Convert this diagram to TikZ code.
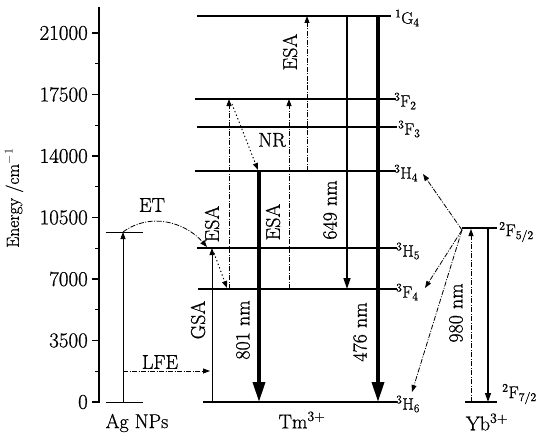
\documentclass[tikz,border=0pt]{standalone}
\usepackage{fontspec}
\setmainfont{Latin Modern Roman}[UprightFeatures={FakeBold=0.8}]
\usetikzlibrary{arrows.meta}
\begin{document}
\begin{tikzpicture}[x=1pt,y=-1pt,
  lbl/.style={font=\fontsize{20}{23}\selectfont, inner sep=0pt},
  tick/.style={font=\fontsize{21}{24}\selectfont, inner sep=0pt, anchor=east},
  lvlbl/.style={font=\fontsize{16.5}{19}\selectfont, anchor=west, inner sep=0pt},
  yblbl/.style={font=\fontsize{17}{20}\selectfont, anchor=west, inner sep=0pt},
  lvl/.style={line width=1.6pt},
  thinlvl/.style={line width=1pt},
  dd/.style={line width=0.8pt, dash pattern=on 5pt off 1.5pt on 1pt off 1.5pt},
  dotl/.style={line width=1pt, dash pattern=on 1.3pt off 2.5pt},
  sarr/.style={-{Triangle[length=7pt,width=5pt]}},
  marr/.style={line width=1.6pt,-{Triangle[length=11pt,width=7pt]}},
  barr/.style={line width=3.6pt,-{Triangle[length=20pt,width=12pt]}},
]
\useasboundingbox (0,0) rectangle (538,436);
% axis
\draw[line width=1.6pt] (99,7) -- (99,402.8);
\foreach \v/\y in {0/402,3500/340.5,7000/279,10500/217.5,14000/156,17500/94.5,21000/33} {
  \draw[line width=1.2pt] (92,\y) -- (99,\y);
  \node[tick] (t\v) at (88,\y) {\v};
}
\foreach \y in {371.25,309.75,248.25,186.75,125.25,63.75} {
  \draw[line width=1.2pt] (95,\y) -- (99,\y);
}
\node[font=\fontsize{17.5}{20}\selectfont,inner sep=0pt,rotate=90] (ylab) at (14,198) {Energy /cm$^{-1}$};

% Ag NPs
\draw[thinlvl] (106,232) -- (143,232);
\draw[thinlvl] (106,402) -- (143,402);
\coordinate (ag0) at (123,402);
\coordinate (ag1) at (123,232);
\coordinate (lfe0) at (123,371);
\draw[line width=0.8pt,sarr] (ag0) -- (ag1);
\node[lbl] (agl) at (137,423) {Ag NPs};

% Tm levels
\draw[lvl] (197,16) -- (391,16);
\draw[lvl] (195,99) -- (395,99);
\draw[lvl] (197,127) -- (397,127);
\draw[lvl] (195,171) -- (395,171);
\draw[lvl] (197,248) -- (397,248);
\draw[lvl] (198,289) -- (397,289);
\draw[lvl] (203,402) -- (397,402);
\node[lvlbl] (g4) at (395,18) {\textsuperscript{1}G\textsubscript{4}};
\node[lvlbl] (f2) at (394,101) {\textsuperscript{3}F\textsubscript{2}};
\node[lvlbl] (f3) at (398,129) {\textsuperscript{3}F\textsubscript{3}};
\node[lvlbl] (h4) at (394,173) {\textsuperscript{3}H\textsubscript{4}};
\node[lvlbl] (h5) at (396,251) {\textsuperscript{3}H\textsubscript{5}};
\node[lvlbl] (f4) at (396,292) {\textsuperscript{3}F\textsubscript{4}};
\node[lvlbl] (h6) at (396,404) {\textsuperscript{3}H\textsubscript{6}};
\node[lbl] (tm) at (302,420) {Tm\textsuperscript{3+}};

% ET, LFE, GSA
\coordinate (et) at (207,247);
\draw[dd,sarr] (ag1) .. controls (150,212) and (185,222) .. (et);
\node[lbl] (etl) at (152,205) {ET};
\coordinate (lfe1) at (210,371);
\draw[dd,sarr] (lfe0) -- (lfe1);
\node[lbl] (lfel) at (160,362) {LFE};
\coordinate (gsa0) at (212,402);
\coordinate (gsa1) at (212,248);
\draw[line width=0.8pt,sarr] (gsa0) -- (gsa1);
\node[lbl,rotate=90] (gsal) at (198,320) {GSA};

% ESA left
\coordinate (e1a) at (229,289);
\coordinate (e1b) at (229,99);
\draw[dd,sarr] (e1a) -- (e1b);
\node[lbl,rotate=90] (e1l) at (212,224) {ESA};
% NR
\coordinate (nr1a) at (232,104);
\coordinate (nr1b) at (258,170);
\draw[dotl,sarr] (nr1a) -- (nr1b);
\coordinate (nr2a) at (214,253);
\coordinate (nr2b) at (227,288);
\draw[dotl,sarr] (nr2a) -- (nr2b);
\node[lbl] (nrl) at (272,140) {NR};
% ESA middle
\coordinate (e2a) at (289,289);
\coordinate (e2b) at (289,99);
\draw[dd,sarr] (e2a) -- (e2b);
\node[lbl,rotate=90] (e2l) at (273,222) {ESA};
% ESA top
\coordinate (e3a) at (307,171);
\coordinate (e3b) at (307,16);
\draw[dd,sarr] (e3a) -- (e3b);
\node[lbl,rotate=90] (e3l) at (290,52) {ESA};
% emissions
\coordinate (m801a) at (259,171);
\coordinate (m801b) at (259,402);
\draw[barr] (m801a) -- (m801b);
\node[lbl,rotate=90] (l801) at (243,330) {801 nm};
\coordinate (m649a) at (347,16);
\coordinate (m649b) at (347,289);
\draw[marr] (m649a) -- (m649b);
\node[lbl,rotate=90] (l649) at (330,210) {649 nm};
\coordinate (m476a) at (378,15);
\coordinate (m476b) at (378,402);
\draw[barr] (m476a) -- (m476b);
\node[lbl,rotate=90] (l476) at (360,332) {476 nm};

% Yb
\draw[lvl] (462,228) -- (497,228);
\draw[lvl] (465,402) -- (497,402);
\node[yblbl] (f52) at (499,232) {\textsuperscript{2}F\textsubscript{5/2}};
\node[yblbl] (f72) at (502,394) {\textsuperscript{2}F\textsubscript{7/2}};
\node[lbl] (yb) at (487,422) {Yb\textsuperscript{3+}};
\coordinate (yb0) at (471,402);
\coordinate (yb1) at (471,229);
\draw[dd,sarr] (yb0) -- (yb1);
\coordinate (yb2) at (488,228);
\coordinate (yb3) at (488,402);
\draw[line width=1.3pt,-{Triangle[length=9pt,width=6pt]}] (yb2) -- (yb3);
\node[lbl,rotate=90] (l980) at (456,313) {980 nm};
\coordinate (ybs) at (462,230);
\coordinate (toh4) at (423,174);
\coordinate (tof4) at (425,288);
\coordinate (toh6) at (412,392);
\draw[dd,sarr] (ybs) -- (toh4);
\draw[dd,sarr] (ybs) -- (tof4);
\draw[dd,sarr] (ybs) -- (toh6);
\end{tikzpicture}
\end{document}
